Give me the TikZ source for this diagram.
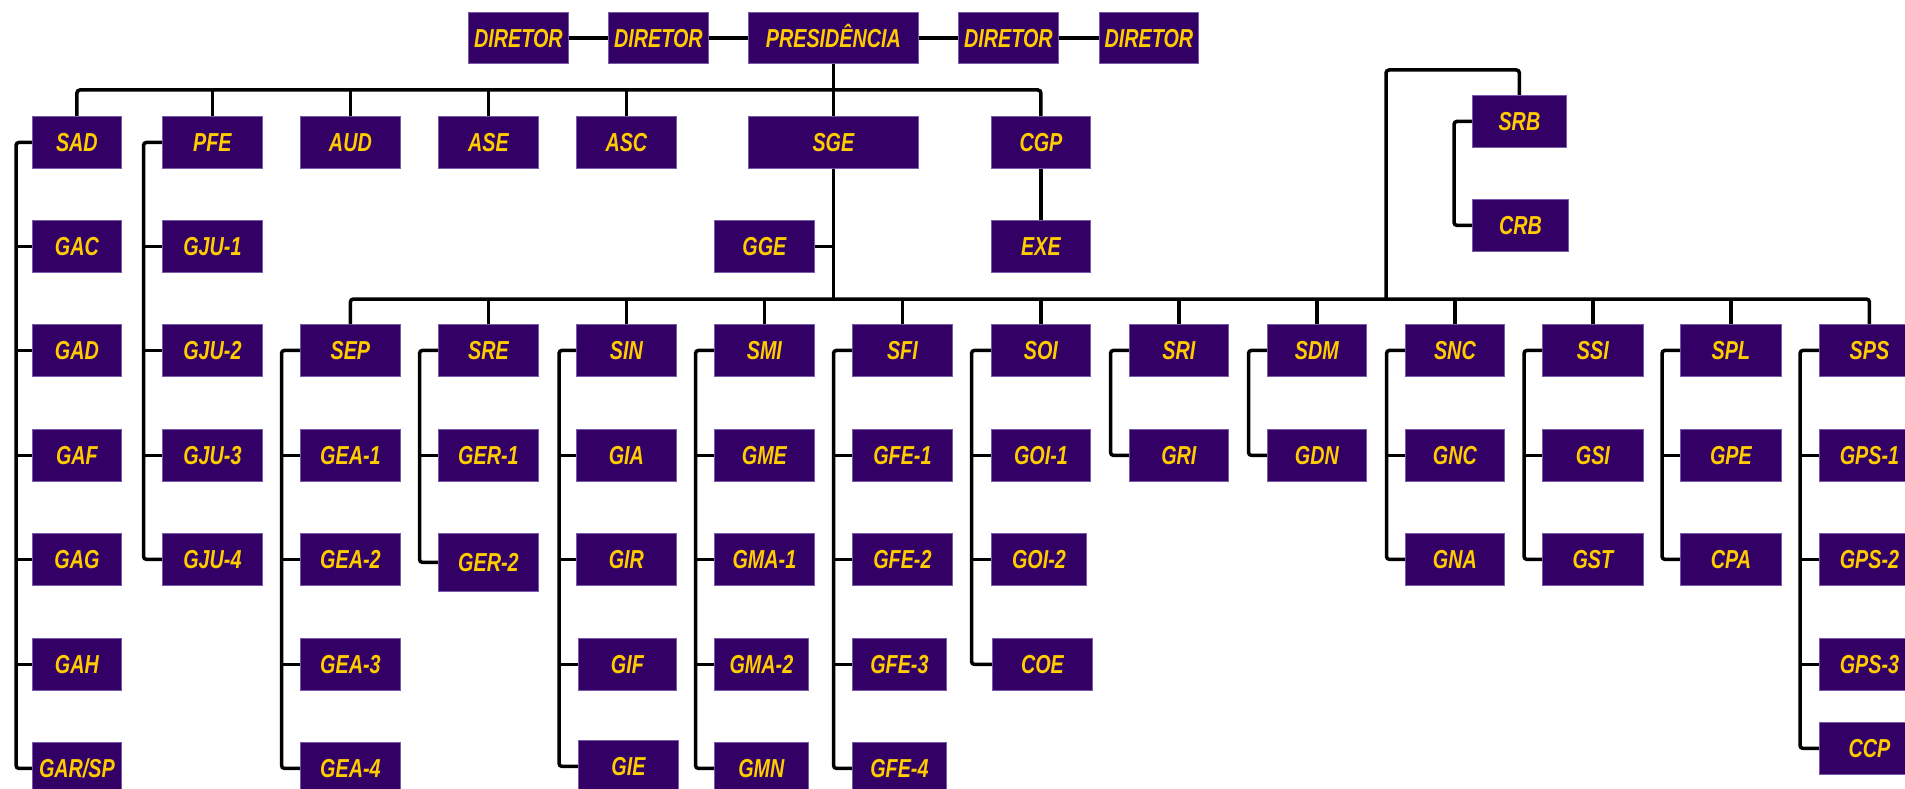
\documentclass[tikz,border=0pt]{standalone}
\usepackage{fontspec}
\newfontfamily\boxfont[FakeStretch=0.76]{Liberation Sans}
\definecolor{boxfill}{RGB}{51,0,102}
\definecolor{boxline}{RGB}{120,90,170}
\definecolor{gold}{RGB}{255,204,0}
\tikzset{
  box/.style={rectangle, fill=boxfill, draw=boxline, line width=0.8pt,
    minimum width=100pt, minimum height=52pt, inner sep=0pt, anchor=north west,
    text height=18.6pt, text depth=0pt,
    text=gold, font=\boxfont\fontsize{26}{28}\selectfont\bfseries\itshape},
  conn/.style={draw=black, line width=3.5pt, rounded corners=3pt}
}
\begin{document}
\begin{tikzpicture}[x=1pt,y=-1pt]
\useasboundingbox (0,0) rectangle (1905,789);
\clip (0,0) rectangle (1905,789);
% row 1
\node[box, minimum height=51pt] (dir1) at (468,12) {DIRETOR};
\node[box, minimum height=51pt] (dir2) at (608,12) {DIRETOR};
\node[box, minimum height=51pt, minimum width=170pt] (pres) at (748,12) {PRESIDÊNCIA};
\node[box, minimum height=51pt] (dir3) at (958,12) {DIRETOR};
\node[box, minimum height=51pt, minimum width=99pt] (dir4) at (1099,12) {DIRETOR};
% row 2
\node[box, minimum width=89pt] (sad) at (32,116) {SAD};
\node[box] (pfe) at (162,116) {PFE};
\node[box] (aud) at (300,116) {AUD};
\node[box] (ase) at (438,116) {ASE};
\node[box] (asc) at (576,116) {ASC};
\node[box, minimum width=170pt] (sge) at (748,116) {SGE};
\node[box, minimum width=99pt] (cgp) at (991,116) {CGP};
\node[box, minimum width=94pt] (srb) at (1472,95) {SRB};
% row 3
\node[box, minimum width=89pt] (gac) at (32,220) {GAC};
\node[box] (gju1) at (162,220) {GJU-1};
\node[box] (gge) at (714,220) {GGE};
\node[box, minimum width=99pt] (exe) at (991,220) {EXE};
\node[box, minimum width=96pt] (crb) at (1472,199) {CRB};
% row 4
\node[box, minimum width=89pt] (gad) at (32,324) {GAD};
\node[box] (gju2) at (162,324) {GJU-2};
\node[box] (sep) at (300,324) {SEP};
\node[box] (sre) at (438,324) {SRE};
\node[box] (sin) at (576,324) {SIN};
\node[box] (smi) at (714,324) {SMI};
\node[box] (sfi) at (852,324) {SFI};
\node[box, minimum width=99pt] (soi) at (991,324) {SOI};
\node[box, minimum width=99pt] (sri) at (1129,324) {SRI};
\node[box, minimum width=99pt] (sdm) at (1267,324) {SDM};
\node[box, minimum width=99pt] (snc) at (1405,324) {SNC};
\node[box, minimum width=101pt] (ssi) at (1542,324) {SSI};
\node[box, minimum width=101pt] (spl) at (1680,324) {SPL};
\node[box] (sps) at (1819,324) {SPS};
% row 5
\node[box, minimum width=89pt] (gaf) at (32,429) {GAF};
\node[box] (gju3) at (162,429) {GJU-3};
\node[box] (gea1) at (300,429) {GEA-1};
\node[box] (ger1) at (438,429) {GER-1};
\node[box] (gia) at (576,429) {GIA};
\node[box] (gme) at (714,429) {GME};
\node[box] (gfe1) at (852,429) {GFE-1};
\node[box, minimum width=99pt] (goi1) at (991,429) {GOI-1};
\node[box, minimum width=99pt] (gri) at (1129,429) {GRI};
\node[box, minimum width=99pt] (gdn) at (1267,429) {GDN};
\node[box, minimum width=99pt] (gnc) at (1405,429) {GNC};
\node[box, minimum width=101pt] (gsi) at (1542,429) {GSI};
\node[box, minimum width=101pt] (gpe) at (1680,429) {GPE};
\node[box] (gps1) at (1819,429) {GPS-1};
% row 6
\node[box, minimum width=89pt] (gag) at (32,533) {GAG};
\node[box] (gju4) at (162,533) {GJU-4};
\node[box] (gea2) at (300,533) {GEA-2};
\node[box, minimum height=58pt] (ger2) at (438,533) {GER-2};
\node[box] (gir) at (576,533) {GIR};
\node[box] (gma1) at (714,533) {GMA-1};
\node[box] (gfe2) at (852,533) {GFE-2};
\node[box, minimum width=95pt] (goi2) at (991,533) {GOI-2};
\node[box, minimum width=99pt] (gna) at (1405,533) {GNA};
\node[box, minimum width=101pt] (gst) at (1542,533) {GST};
\node[box, minimum width=101pt] (cpa) at (1680,533) {CPA};
\node[box] (gps2) at (1819,533) {GPS-2};
% row 7
\node[box, minimum width=89pt] (gah) at (32,638) {GAH};
\node[box] (gea3) at (300,638) {GEA-3};
\node[box, minimum width=98pt] (gif) at (578,638) {GIF};
\node[box, minimum width=94pt] (gma2) at (714,638) {GMA-2};
\node[box, minimum width=94pt] (gfe3) at (852,638) {GFE-3};
\node[box] (coe) at (992,638) {COE};
\node[box] (gps3) at (1819,638) {GPS-3};
% row 8
\node[box, minimum width=89pt] (garsp) at (32,742) {GAR/SP};
\node[box] (gea4) at (300,742) {GEA-4};
\node[box] (gie) at (578,740) {GIE};
\node[box, minimum width=94pt] (gmn) at (714,742) {GMN};
\node[box, minimum width=94pt] (gfe4) at (852,742) {GFE-4};
\node[box] (ccp) at (1819,722) {CCP};
% bus coordinates
\coordinate (b1) at (0,90);
\coordinate (b2) at (0,299);
\coordinate (srbup) at (1386,70);
% top row links
\draw[conn] (dir1.east) -- (dir2.west);
\draw[conn] (dir2.east) -- (pres.west);
\draw[conn] (pres.east) -- (dir3.west);
\draw[conn] (dir3.east) -- (dir4.west);
\draw[conn] (pres.south) -- (sge.north);
% first bus
\draw[conn] (sad.north) |- (cgp.north |- b1) -- (cgp.north);
\foreach \n in {pfe,aud,ase,asc} \draw[conn] (\n.north) -- (\n.north |- b1);
\draw[conn] (cgp.south) -- (exe.north);
\draw[conn] (sge.south) -- (sge.south |- b2);
\draw[conn] (gge.east) -- (gge.east -| sge.south);
% second bus
\draw[conn] (sep.north) |- (sps.north |- b2) -- (sps.north);
\foreach \n in {sre,sin,smi,sfi,soi,sri,sdm,snc,ssi,spl} \draw[conn] (\n.north) -- (\n.north |- b2);
\draw[conn] (srb.north) |- (srbup) -- (srbup |- b2);
\draw[conn] (srb.west) -- ++(-18,0) |- (crb.west);
% columns
\draw[conn] (sad.west) -- ++(-16,0) |- (garsp.west);
\foreach \n in {gac,gad,gaf,gag,gah} \draw[conn] (\n.west) -- ++(-16,0);
\draw[conn] (pfe.west) -- ++(-18.5,0) |- (gju4.west);
\foreach \n in {gju1,gju2,gju3} \draw[conn] (\n.west) -- ++(-18.5,0);
\draw[conn] (sep.west) -- ++(-18.5,0) |- (gea4.west);
\foreach \n in {gea1,gea2,gea3} \draw[conn] (\n.west) -- ++(-18.5,0);
\draw[conn] (sre.west) -- ++(-18.5,0) |- (ger2.west);
\draw[conn] (ger1.west) -- ++(-18.5,0);
\draw[conn] (sin.west) -- ++(-17,0) |- (gie.west);
\foreach \n in {gia,gir} \draw[conn] (\n.west) -- ++(-17,0);
\draw[conn] (gif.west) -- ++(-19,0);
\draw[conn] (smi.west) -- ++(-18.5,0) |- (gmn.west);
\foreach \n in {gme,gma1,gma2} \draw[conn] (\n.west) -- ++(-18.5,0);
\draw[conn] (sfi.west) -- ++(-18.5,0) |- (gfe4.west);
\foreach \n in {gfe1,gfe2,gfe3} \draw[conn] (\n.west) -- ++(-18.5,0);
\draw[conn] (soi.west) -- ++(-19.5,0) |- (coe.west);
\foreach \n in {goi1,goi2} \draw[conn] (\n.west) -- ++(-19.5,0);
\draw[conn] (sri.west) -- ++(-18.5,0) |- (gri.west);
\draw[conn] (sdm.west) -- ++(-18.5,0) |- (gdn.west);
\draw[conn] (snc.west) -- ++(-18.5,0) |- (gna.west);
\draw[conn] (gnc.west) -- ++(-18.5,0);
\draw[conn] (ssi.west) -- ++(-18,0) |- (gst.west);
\draw[conn] (gsi.west) -- ++(-18,0);
\draw[conn] (spl.west) -- ++(-18,0) |- (cpa.west);
\draw[conn] (gpe.west) -- ++(-18,0);
\draw[conn] (sps.west) -- ++(-19,0) |- (ccp.west);
\foreach \n in {gps1,gps2,gps3} \draw[conn] (\n.west) -- ++(-19,0);
\end{tikzpicture}
\end{document}
